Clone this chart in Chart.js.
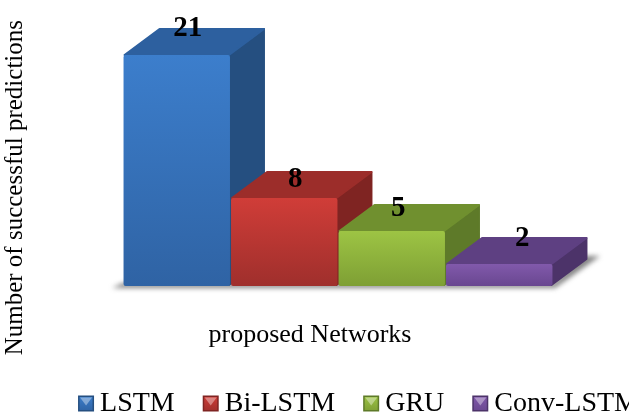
<!DOCTYPE html>
<html>
<head>
<meta charset="utf-8">
<style>html,body{margin:0;padding:0;background:#fff}canvas{display:block}</style>
<script src="https://cdn.jsdelivr.net/npm/chart.js@4"></script>
</head>
<body>
<canvas id="c" width="629" height="417"></canvas>
<script>
const seriesNames = ["LSTM", "Bi-LSTM", "GRU", "Conv-LSTM"];
const seriesValues = [21, 8, 5, 2];
const category = ["proposed Networks"];
const yTitle = "Number of successful predictions";
const xTitle = "proposed Networks";
const frontTop = ["#3C7ECC", "#D03D38", "#9DC444", "#8159AB"];
const frontBottom = ["#2F63A4", "#9F2F2C", "#7E9F34", "#694790"];
const topFace = ["#2D609F", "#9C2D2A", "#70902F", "#5E4082"];
const sideFace = ["#254F80", "#7F2422", "#5E7A29", "#4C3369"];
const serif = "'Liberation Serif', serif";
const DX = 35, DY = -27;
const labelShift = [[11, -26], [11, -18], [6.5, -22], [23, -25]];
const LEGEND_PAD = 28, LEGEND_SHIFT_X = 44, LEGEND_SHIFT_Y = 11;

const cube = {
  id: "cube",
  afterLayout(chart) {
    const l = chart.legend;
    l.left += LEGEND_SHIFT_X; l.right += LEGEND_SHIFT_X;
    l.top += LEGEND_SHIFT_Y; l.bottom += LEGEND_SHIFT_Y;
    l.legendHitBoxes.forEach(h => { h.left += LEGEND_SHIFT_X; });
  },
  beforeDatasetsDraw(chart) {
    const ctx = chart.ctx, area = chart.chartArea;
    ctx.save();
    ctx.filter = "blur(2.5px)";
    ctx.fillStyle = "rgba(90,90,90,0.75)";
    ctx.beginPath();
    ctx.moveTo(area.left - 11, area.bottom + 2);
    ctx.lineTo(area.right + 2, area.bottom + 2);
    ctx.lineTo(area.right + DX + 12, area.bottom + DY - 3);
    ctx.lineTo(area.right + DX - 5, area.bottom + DY - 3);
    ctx.lineTo(area.right, area.bottom - 3);
    ctx.lineTo(area.left, area.bottom - 3);
    ctx.closePath();
    ctx.fill();
    ctx.restore();
    seriesValues.forEach((v, i) => {
      const b = chart.getDatasetMeta(i).data[0];
      const L = b.x - b.width / 2, R = b.x + b.width / 2, T = b.y, B = b.base;
      ctx.save();
      ctx.lineJoin = "round";
      ctx.lineWidth = 2;
      ctx.fillStyle = ctx.strokeStyle = sideFace[i];
      ctx.beginPath();
      ctx.moveTo(R - 1, T + 1);
      ctx.lineTo(R + DX - 1, T + DY + 1);
      ctx.lineTo(R + DX - 1, B + DY);
      ctx.lineTo(R - 1, B - 1);
      ctx.closePath();
      ctx.fill(); ctx.stroke();
      ctx.fillStyle = ctx.strokeStyle = topFace[i];
      ctx.beginPath();
      ctx.moveTo(L + 1, T);
      ctx.lineTo(L + DX + 1, T + DY + 1);
      ctx.lineTo(R + DX - 1, T + DY + 1);
      ctx.lineTo(R - 1, T);
      ctx.closePath();
      ctx.fill(); ctx.stroke();
      ctx.restore();
    });
  },
  afterDatasetsDraw(chart) {
    const ctx = chart.ctx;
    ctx.save();
    ctx.fillStyle = "#000";
    ctx.textAlign = "center";
    ctx.textBaseline = "middle";
    ctx.font = "bold 29px " + serif;
    seriesValues.forEach((v, i) => {
      const b = chart.getDatasetMeta(i).data[0];
      ctx.fillText(String(v), b.x + labelShift[i][0], b.y + labelShift[i][1]);
    });
    ctx.font = "26px " + serif;
    ctx.fillText(xTitle, 310, 335);
    ctx.restore();
  },
  afterDraw(chart) {
    const ctx = chart.ctx, l = chart.legend;
    l.legendHitBoxes.forEach((h, i) => {
      const s = 16, x = h.left, y = l.top + LEGEND_PAD + 12.5 + 1 - s / 2;
      ctx.save();
      ctx.fillStyle = sideFace[i];
      ctx.fillRect(x, y, s, s);
      const g = ctx.createLinearGradient(0, y, 0, y + s);
      g.addColorStop(0, frontTop[i]);
      g.addColorStop(1, frontBottom[i]);
      ctx.fillStyle = g;
      ctx.fillRect(x + 1.5, y + 1.5, s - 3, s - 3);
      ctx.fillStyle = "rgba(255,255,255,0.38)";
      ctx.beginPath();
      ctx.moveTo(x + 2, y + 2);
      ctx.lineTo(x + s - 2, y + 2);
      ctx.lineTo(x + s / 2, y + s / 2 + 2);
      ctx.closePath();
      ctx.fill();
      ctx.restore();
    });
  }
};

new Chart(document.getElementById("c"), {
  type: "bar",
  plugins: [cube],
  data: {
    labels: category,
    datasets: seriesNames.map((name, i) => ({
      label: name,
      data: [seriesValues[i]],
      backgroundColor(c) {
        const ch = c.chart;
        if (!ch.chartArea) return frontTop[i];
        const g = ch.ctx.createLinearGradient(0, ch.scales.y.getPixelForValue(seriesValues[i]), 0, ch.scales.y.getPixelForValue(0));
        g.addColorStop(0, frontTop[i]);
        g.addColorStop(1, frontBottom[i]);
        return g;
      },
      borderRadius: 2,
      borderSkipped: false,
      barPercentage: 0.99,
      categoryPercentage: 1
    }))
  },
  options: {
    responsive: false,
    animation: false,
    layout: { padding: { top: 20, right: 0, bottom: 0, left: 0 } },
    plugins: {
      tooltip: { enabled: false },
      legend: {
        position: "bottom",
        labels: {
          font: { family: serif, size: 28 },
          color: "#000",
          boxWidth: 8,
          boxHeight: 16,
          padding: LEGEND_PAD,
          generateLabels: () => seriesNames.map((n, i) => ({
            text: n,
            fillStyle: "rgba(0,0,0,0)",
            strokeStyle: "rgba(0,0,0,0)",
            lineWidth: 0,
            datasetIndex: i
          }))
        }
      }
    },
    scales: {
      x: {
        display: true,
        grid: { display: false },
        border: { display: false },
        ticks: { display: false },
        afterFit(s) { s.height = 65; }
      },
      y: {
        min: 0,
        max: 24.18,
        display: true,
        grid: { display: false },
        border: { display: false },
        ticks: { display: false },
        title: {
          display: true,
          text: yTitle,
          align: "end",
          color: "#000",
          font: { family: serif, size: 25 },
          padding: { top: 0, bottom: 0 }
        },
        afterFit(s) { s.width = 123; }
      },
      rightGutter: {
        position: "right",
        display: true,
        grid: { display: false },
        border: { display: false },
        ticks: { display: false },
        afterFit(s) { s.width = 76; }
      }
    }
  }
});
</script>
</body>
</html>
